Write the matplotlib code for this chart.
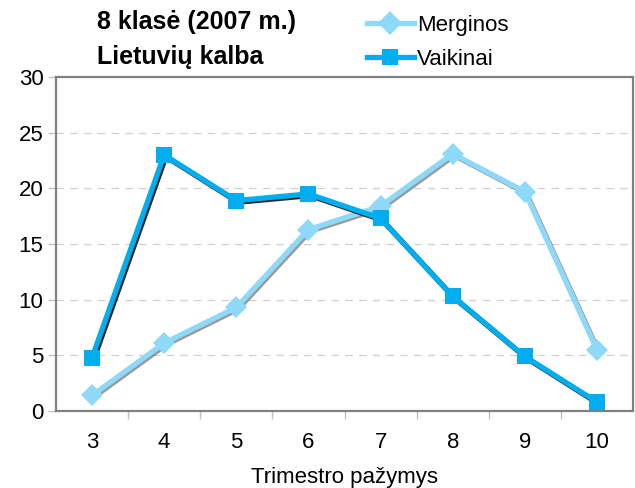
import matplotlib.pyplot as plt
import matplotlib.patheffects as pe
from matplotlib.lines import Line2D

# Trimestro pažymiai
grades = ['3', '4', '5', '6', '7', '8', '9', '10']
merginos = [1.4, 6.1, 9.3, 16.3, 18.4, 23.1, 19.7, 5.5]
vaikinai = [4.8, 23.0, 18.9, 19.5, 17.3, 10.3, 4.9, 0.8]

plt.rcParams['font.family'] = ['Liberation Sans', 'DejaVu Sans']

c_m = '#8ED8F8'
c_v = '#00AEEF'

fig = plt.figure(figsize=(6.35, 4.88), dpi=100)
ax = fig.add_axes([56 / 635, 1 - 411 / 488, 577 / 635, 334 / 488])

x = list(range(len(grades)))

# lines with a soft shadow, markers drawn on top without it
ax.plot(x, merginos, color=c_m, lw=3.8, zorder=3, solid_joinstyle='miter',
        path_effects=[pe.SimpleLineShadow(offset=(1.2, -1.2), shadow_color='#555555', alpha=0.6),
                      pe.Normal()])
ax.plot(x, merginos, ls='none', marker='D', markersize=11, color=c_m, mew=0, zorder=3.5)
ax.plot(x, vaikinai, color=c_v, lw=3.8, zorder=4, solid_joinstyle='miter',
        path_effects=[pe.SimpleLineShadow(offset=(1.2, -1.2), shadow_color='#000000', alpha=0.85),
                      pe.Normal()])
ax.plot(x, vaikinai, ls='none', marker='s', markersize=11.5, color=c_v, mew=0, zorder=4.5)

ax.set_xlim(-0.5, len(grades) - 0.5)
ax.set_ylim(0, 30)
ax.set_yticks(range(0, 31, 5))
ax.set_xticks(x)
ax.set_xticklabels(grades)
ax.set_xticks([i + 0.5 for i in x[:-1]], minor=True)
ax.tick_params(axis='x', which='major', length=0, pad=15, labelsize=16)
ax.tick_params(axis='x', which='minor', length=6, color='#c0c0c0', width=1)
ax.tick_params(axis='y', length=6, color='#c0c0c0', width=1, labelsize=16, pad=3)

for yv in range(5, 30, 5):
    ax.axhline(yv, color='#d0d0d0', lw=0.9, ls=(0, (6, 5)), zorder=1)

for s in ax.spines.values():
    s.set_color('#808080')
    s.set_linewidth(1.6)

ax.set_xlabel('Trimestro pažymys', fontsize=16, labelpad=10)

fig.text(97 / 635, 1 - 22 / 488, '8 klasė (2007 m.)', fontsize=18, fontweight='bold', va='center')
fig.text(97 / 635, 1 - 57 / 488, 'Lietuvių kalba', fontsize=18, fontweight='bold', va='center')

h1 = Line2D([], [], color=c_m, lw=3.8, marker='D', markersize=12, mew=0)
h2 = Line2D([], [], color=c_v, lw=3.8, marker='s', markersize=11.5, mew=0)
fig.legend(handles=[h1, h2], labels=['Merginos', 'Vaikinai'], loc='center left',
           bbox_to_anchor=(367 / 635, 1 - 42.5 / 488),
           frameon=False, fontsize=16, handlelength=2.1, handletextpad=0.15,
           labelspacing=0.6, borderaxespad=0, borderpad=0)

fig.savefig('out.png', dpi=100)
